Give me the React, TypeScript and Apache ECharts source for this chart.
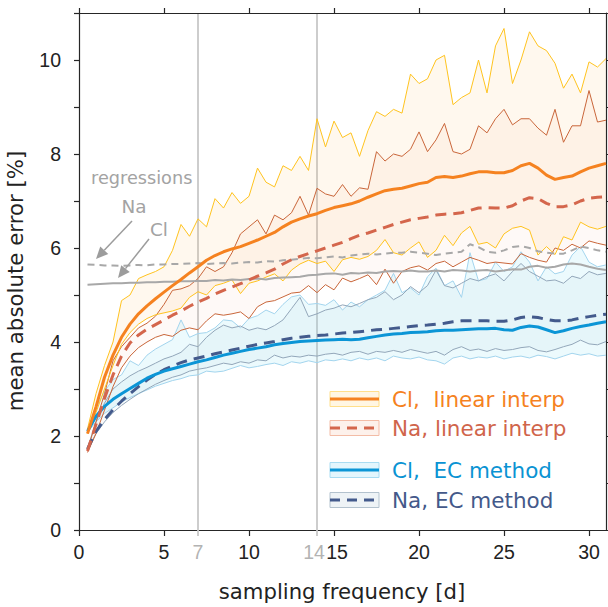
import React, { useEffect, useRef } from "react";
import * as echarts from "echarts";

// sampling frequency [d]
const X = [0.5, 1, 1.5, 2, 2.5, 3, 3.5, 4, 4.5, 5, 5.5, 6, 6.5, 7, 7.5, 8, 8.5, 9, 9.5, 10,
  10.5, 11, 11.5, 12, 12.5, 13, 13.5, 14, 14.5, 15, 15.5, 16, 16.5, 17, 17.5, 18, 18.5, 19, 19.5, 20,
  20.5, 21, 21.5, 22, 22.5, 23, 23.5, 24, 24.5, 25, 25.5, 26, 26.5, 27, 27.5, 28, 28.5, 29, 29.5, 30,
  30.5, 31];

const X_TICKS = [0, 5, 10, 15, 20, 25, 30];
const X_MARKS = [7, 14];

// Cl, linear interp
const clLinMean = [2.05, 2.62, 3.25, 3.72, 4.1, 4.38, 4.6, 4.77, 4.92, 5.06,
  5.2, 5.33, 5.47, 5.6, 5.74, 5.84, 5.92, 5.98, 6.03, 6.1,
  6.17, 6.25, 6.33, 6.45, 6.55, 6.62, 6.68, 6.73, 6.8, 6.86,
  6.9, 6.94, 7.0, 7.08, 7.15, 7.22, 7.25, 7.27, 7.32, 7.37,
  7.4, 7.5, 7.52, 7.5, 7.53, 7.58, 7.62, 7.62, 7.6, 7.6,
  7.65, 7.75, 7.8, 7.7, 7.55, 7.46, 7.5, 7.53, 7.62, 7.7,
  7.75, 7.8];
const clLinUpper = [2.15, 2.9, 3.5, 4.0, 4.88, 5.0, 5.35, 5.43, 5.5, 5.6,
  5.95, 6.5, 6.25, 6.62, 6.45, 7.05, 6.85, 7.18, 6.95, 7.1,
  7.7, 7.4, 7.3, 7.75, 7.65, 7.95, 7.65, 8.75, 8.15, 8.7,
  8.35, 8.45, 7.95, 8.5, 8.9, 8.8, 8.95, 8.87, 9.7, 9.5,
  9.6, 10.0, 10.1, 9.05, 9.2, 9.3, 10.0, 9.3, 10.3, 10.67,
  9.5, 10.0, 10.6, 10.3, 10.2, 9.93, 9.4, 9.7, 9.3, 9.96,
  9.85, 10.03];
const clLinLower = [2.05, 2.5, 3.0, 3.5, 3.95, 4.2, 4.38, 4.5, 4.58, 4.62,
  4.66, 4.72, 4.95, 5.07, 5.0, 5.2, 5.25, 5.32, 5.03, 5.25,
  5.3, 5.38, 5.45, 5.3, 5.53, 5.66, 5.74, 5.67, 5.72, 5.5,
  5.75, 5.8, 5.76, 5.82, 5.95, 6.18, 5.9, 5.85, 6.0, 6.13,
  5.8, 5.95, 6.27, 6.05, 6.32, 6.46, 6.08, 6.12, 6.0, 6.3,
  6.42, 6.46, 6.38, 5.85, 6.03, 5.86, 6.24, 6.17, 6.55, 6.45,
  6.4, 6.46];

// Na, linear interp
const naLinMean = [1.68, 2.25, 2.8, 3.3, 3.7, 3.98, 4.15, 4.27, 4.37, 4.47,
  4.57, 4.66, 4.76, 4.85, 4.93, 5.02, 5.1, 5.17, 5.24, 5.32,
  5.4, 5.47, 5.55, 5.66, 5.75, 5.82, 5.88, 5.94, 6.0, 6.06,
  6.12, 6.2, 6.27, 6.32, 6.38, 6.44, 6.5, 6.55, 6.6, 6.63,
  6.66, 6.7, 6.72, 6.73, 6.75, 6.8, 6.85, 6.86, 6.85, 6.85,
  6.9, 7.0, 7.07, 7.05, 6.95, 6.88, 6.88, 6.92, 7.0, 7.06,
  7.08, 7.09];
const naLinUpper = [1.7, 2.3, 2.9, 3.6, 3.9, 4.1, 4.3, 4.4, 4.55, 4.8,
  5.1, 5.13, 5.2, 5.35, 5.6, 5.5, 5.6, 5.9, 6.3, 6.45,
  6.6, 6.3, 6.7, 6.6, 6.75, 7.1, 6.7, 7.27, 7.15, 7.1,
  7.35, 7.1, 7.28, 7.25, 8.05, 7.85, 8.0, 7.95, 8.1, 8.47,
  8.05, 8.3, 8.65, 8.05, 8.0, 8.1, 8.6, 8.45, 8.75, 8.95,
  8.62, 8.75, 8.75, 8.55, 8.4, 8.95, 8.25, 8.6, 8.6, 9.35,
  8.68, 8.72];
const naLinLower = [1.65, 2.05, 2.55, 3.05, 3.45, 3.7, 3.88, 4.0, 4.1, 4.16,
  4.12, 4.25, 4.3, 4.26, 4.45, 4.6, 4.57, 4.6, 4.64, 4.5,
  4.75, 4.85, 4.88, 4.96, 5.04, 5.06, 5.2, 5.05, 5.22, 5.11,
  5.36, 5.28, 5.35, 5.43, 5.22, 5.55, 5.25, 5.5, 5.58, 5.62,
  5.53, 5.67, 5.72, 5.6, 5.7, 5.8, 5.74, 5.67, 5.7, 5.68,
  5.66, 5.88, 5.8, 5.74, 5.7, 6.0, 5.95, 6.08, 6.0, 6.15,
  6.1, 6.06];

// Cl, EC method
const clEcMean = [2.1, 2.42, 2.63, 2.78, 2.9, 3.01, 3.12, 3.23, 3.31, 3.38,
  3.43, 3.48, 3.53, 3.58, 3.62, 3.67, 3.72, 3.76, 3.8, 3.84,
  3.87, 3.9, 3.94, 3.97, 3.99, 4.01, 4.02, 4.03, 4.04, 4.05,
  4.06, 4.05, 4.06, 4.09, 4.12, 4.15, 4.17, 4.18, 4.2, 4.21,
  4.22, 4.24, 4.25, 4.25, 4.26, 4.27, 4.28, 4.28, 4.29, 4.26,
  4.25, 4.31, 4.34, 4.32, 4.26, 4.2, 4.24, 4.29, 4.33, 4.36,
  4.4, 4.43];
const clEcUpper = [2.12, 2.6, 2.95, 3.2, 3.3, 3.6, 3.5, 3.72, 3.85, 3.95,
  4.05, 4.47, 4.1, 4.18, 4.2, 4.3, 4.47, 4.45, 4.3, 4.5,
  4.56, 4.68, 4.6, 4.8, 4.96, 5.0, 4.8, 4.82, 4.78, 4.9,
  4.68, 4.85, 4.75, 4.9, 5.0, 5.1, 5.46, 5.05, 5.15, 5.0,
  5.39, 5.57, 5.2, 5.3, 4.95, 5.9, 5.3, 5.35, 5.7, 5.5,
  5.6, 5.92, 5.7, 5.3, 5.6, 5.45, 5.5, 5.85, 6.03, 5.7,
  5.6, 5.64];
const clEcLower = [2.08, 2.3, 2.48, 2.6, 2.72, 2.82, 2.9, 2.98, 3.06, 3.12,
  3.18, 3.22, 3.28, 3.3, 3.38, 3.36, 3.38, 3.44, 3.5, 3.45,
  3.48, 3.52, 3.55, 3.5, 3.58, 3.55, 3.6, 3.56, 3.62, 3.6,
  3.64, 3.6, 3.66, 3.62, 3.66, 3.6, 3.7, 3.66, 3.64, 3.68,
  3.62, 3.6, 3.53, 3.66, 3.7, 3.64, 3.68, 3.66, 3.7, 3.64,
  3.68, 3.7, 3.66, 3.72, 3.69, 3.64, 3.7, 3.76, 3.72, 3.75,
  3.7, 3.72];

// Na, EC method
const naEcMean = [1.72, 2.1, 2.35, 2.56, 2.74, 2.9, 3.05, 3.19, 3.31, 3.41,
  3.49, 3.56, 3.62, 3.66, 3.7, 3.75, 3.79, 3.83, 3.87, 3.91,
  3.95, 3.98, 4.01, 4.05, 4.08, 4.1, 4.12, 4.14, 4.15, 4.17,
  4.19, 4.2, 4.22, 4.24, 4.26, 4.27, 4.29, 4.31, 4.33, 4.35,
  4.36, 4.38, 4.4, 4.43, 4.45, 4.45, 4.45, 4.45, 4.44, 4.44,
  4.47, 4.52, 4.54, 4.52, 4.48, 4.45, 4.45, 4.47, 4.51, 4.54,
  4.57, 4.59];
const naEcUpper = [1.75, 2.3, 2.7, 3.0, 3.15, 3.28, 3.38, 3.46, 3.55, 3.64,
  3.7, 3.78, 3.95, 3.9, 4.1, 4.25, 4.36, 4.3, 4.34, 4.25,
  4.3, 4.26, 4.35, 4.47, 4.71, 4.95, 4.54, 4.6, 4.68, 4.72,
  4.79, 4.75, 4.82, 4.9, 4.95, 5.07, 4.9, 5.0, 5.18, 5.05,
  5.2, 5.53, 5.2, 5.15, 5.25, 5.35, 5.3, 5.39, 5.45, 5.3,
  5.5, 5.67, 5.5, 5.4, 5.3, 5.32, 5.25, 5.4, 5.35, 5.5,
  5.43, 5.46];
const naEcLower = [1.72, 2.05, 2.3, 2.5, 2.65, 2.78, 2.9, 3.0, 3.1, 3.18,
  3.25, 3.3, 3.38, 3.42, 3.45, 3.5, 3.55, 3.52, 3.58, 3.55,
  3.62, 3.6, 3.72, 3.66, 3.7, 3.68, 3.72, 3.7, 3.74, 3.76,
  3.72, 3.78, 3.8, 3.74, 3.8, 3.78, 3.82, 3.78, 3.84, 3.8,
  3.76, 3.8, 3.72, 3.84, 3.9, 3.82, 3.85, 3.8, 3.86, 3.82,
  3.84, 3.88, 3.9, 3.82, 3.79, 3.84, 3.9, 3.95, 4.04, 3.96,
  3.94, 4.01];

// regressions
const clRegression = [5.22, 5.23, 5.24, 5.25, 5.25, 5.26, 5.26, 5.27, 5.27, 5.28,
  5.28, 5.29, 5.29, 5.3, 5.3, 5.32, 5.31, 5.33, 5.32, 5.34,
  5.35, 5.33, 5.36, 5.37, 5.38, 5.39, 5.42, 5.43, 5.45, 5.46,
  5.43, 5.47, 5.46, 5.48, 5.47, 5.5, 5.51, 5.5, 5.52, 5.5,
  5.5, 5.52, 5.5, 5.53, 5.52, 5.5, 5.52, 5.53, 5.5, 5.52,
  5.55, 5.54, 5.6, 5.62, 5.58, 5.6, 5.65, 5.67, 5.65, 5.6,
  5.56, 5.53];
const naRegression = [5.65, 5.64, 5.63, 5.63, 5.62, 5.63, 5.64, 5.63, 5.65, 5.65,
  5.66, 5.66, 5.67, 5.68, 5.66, 5.67, 5.68, 5.67, 5.69, 5.7,
  5.69, 5.72, 5.71, 5.74, 5.75, 5.77, 5.79, 5.78, 5.8, 5.82,
  5.8, 5.84, 5.86, 5.88, 5.86, 5.88, 5.9, 5.9, 5.92, 5.9,
  5.88, 5.85, 5.88, 5.9, 5.92, 6.08, 6.02, 5.92, 5.9, 5.95,
  6.02, 6.04, 6.0, 5.93, 5.9, 5.88, 5.88, 5.95, 6.03, 6.0,
  5.95, 5.92];

const TICK_FONT = "'Liberation Sans', Arial, Helvetica, sans-serif";
const TEXT_FONT = "'DejaVu Sans', 'Liberation Sans', sans-serif";
const AX = "#262626";

const C = {
  clLin: "#F58220", clLinBand: "#FFC31F", clLinFill: "rgba(255,190,90,0.10)",
  naLin: "#D4664C", naLinBand: "#C9663A", naLinFill: "rgba(235,130,90,0.05)",
  clEc: "#0B95D6", clEcBand: "#A3D5EE", clEcFill: "rgba(160,228,246,0.2)",
  naEc: "#435A8C", naEcBand: "#93A7BA", naEcFill: "rgba(90,140,170,0.045)",
  reg: "#A8A8A8", regText: "#A3A3A3",
};

function pairs(arr: number[]) {
  return X.map((x, i) => [x, arr[i]]);
}

function band(name: string, upper: number[], lower: number[], fill: string, z: number) {
  return {
    type: "custom",
    name,
    z,
    silent: true,
    clip: true,
    data: [[X[0], lower[0]]],
    renderItem: (_p: any, api: any) => {
      const pts: number[][] = [];
      for (let i = 0; i < X.length; i++) pts.push(api.coord([X[i], upper[i]]));
      for (let i = X.length - 1; i >= 0; i--) pts.push(api.coord([X[i], lower[i]]));
      return { type: "polygon", shape: { points: pts }, style: { fill, stroke: "none" } };
    },
  };
}

function line(name: string, arr: number[], color: string, width: number, dash: any, z: number) {
  return {
    type: "line",
    name,
    z,
    silent: true,
    data: pairs(arr),
    showSymbol: false,
    symbol: "none",
    lineStyle: { color, width, type: dash || "solid", cap: "butt" },
  };
}

function arrow(x1: number, y1: number, x2: number, y2: number, color: string) {
  const dx = x2 - x1, dy = y2 - y1;
  const L = Math.hypot(dx, dy);
  const ux = dx / L, uy = dy / L;
  const hl = 12, hw = 5.5;
  const bx = x2 - ux * hl, by = y2 - uy * hl;
  return [
    { type: "line", z: 100, shape: { x1, y1, x2: bx, y2: by }, style: { stroke: color, lineWidth: 1.5 } },
    {
      type: "polygon", z: 100,
      shape: { points: [[x2, y2], [bx - uy * hw, by + ux * hw], [bx + uy * hw, by - ux * hw]] },
      style: { fill: color },
    },
  ];
}

const LEGEND = [
  { label: "Cl,\u00A0 linear interp", color: C.clLin, text: "#F5821F", fill: "#FFF6E3", stroke: "#FFDF8A", dash: null },
  { label: "Na, linear interp", color: C.naLin, text: "#D0654B", fill: "#FDF1EB", stroke: "#F3BCA6", dash: [10, 7] },
  { label: "Cl,\u00A0 EC method", color: C.clEc, text: "#0A93D3", fill: "#E3F6FD", stroke: "#A8DCF2", dash: null },
  { label: "Na, EC method", color: C.naEc, text: "#44598A", fill: "#EEF3F6", stroke: "#B3C2CE", dash: [10, 7] },
];
const LEGEND_Y = [399, 428, 470, 500];

export default function App() {
  const ref = useRef<HTMLDivElement>(null);

  useEffect(() => {
    document.body.style.margin = "0";
    if (!ref.current) return;
    const chart = echarts.init(ref.current, null, { renderer: "svg" });

    const legendGraphics: any[] = [];
    LEGEND.forEach((it, i) => {
      const cy = LEGEND_Y[i];
      legendGraphics.push({
        type: "rect", z: 100,
        shape: { x: 330, y: cy - 7.5, width: 49, height: 15 },
        style: { fill: it.fill, stroke: it.stroke, lineWidth: 1 },
      });
      legendGraphics.push({
        type: "line", z: 101,
        shape: { x1: 330, y1: cy, x2: 379, y2: cy },
        style: { stroke: it.color, lineWidth: 3, lineDash: it.dash || undefined },
      });
      legendGraphics.push({
        type: "text", z: 101, x: 392, y: cy,
        style: {
          text: it.label, fill: it.text, fontSize: 21.5, fontFamily: TEXT_FONT,
          align: "left", verticalAlign: "middle",
        },
      });
    });

    const tickLabel = { color: "#222", fontSize: 19.5, fontFamily: TICK_FONT };
    const markLabel = { color: "#B3B3B3", fontSize: 19.5, fontFamily: TICK_FONT };

    const option: any = {
      animation: false,
      backgroundColor: "#ffffff",
      grid: { left: 79, right: 2, top: 13, bottom: 77, containLabel: false },
      xAxis: [
        {
          type: "value", min: 0, max: 31, position: "bottom",
          axisLine: { show: true, onZero: false, lineStyle: { color: AX, width: 1.2 } },
          axisTick: { show: true, length: 6, customValues: X_TICKS, lineStyle: { color: AX, width: 1.2 } },
          axisLabel: {
            customValues: X_TICKS, ...tickLabel, margin: 12,
            formatter: (v: number) => (v === 15 ? "{r|15}" : String(v)),
            rich: { r: { ...tickLabel, padding: [0, 0, 0, 6] } },
          },
          splitLine: { show: false },
        },
        {
          type: "value", min: 0, max: 31, position: "bottom",
          axisLine: { show: false },
          axisTick: { show: true, length: 6, customValues: X_MARKS, lineStyle: { color: "#C8C8C8", width: 1.8 } },
          axisLabel: {
            customValues: X_MARKS, ...markLabel, margin: 12,
            formatter: (v: number) => (v === 14 ? "{l|14}" : String(v)),
            rich: { l: { ...markLabel, padding: [0, 6, 0, 0] } },
          },
          splitLine: { show: true, lineStyle: { color: "#C8C8C8", width: 1.8 } },
        },
        {
          type: "value", min: 0, max: 31, position: "top",
          axisLine: { show: true, onZero: false, lineStyle: { color: AX, width: 1.2 } },
          axisTick: { show: true, length: 5, customValues: X_TICKS, lineStyle: { color: AX, width: 1.2 } },
          axisLabel: { show: false },
          splitLine: { show: false },
        },
      ],
      yAxis: [
        {
          type: "value", min: 0, max: 11, interval: 1, position: "left",
          axisLine: { show: true, onZero: false, lineStyle: { color: AX, width: 1.2 } },
          axisTick: { show: true, length: 5, lineStyle: { color: AX, width: 1.2 } },
          axisLabel: {
            ...tickLabel, margin: 18,
            formatter: (v: number) => (v % 2 === 0 && v < 11 ? String(v) : ""),
          },
          splitLine: { show: false },
        },
        {
          type: "value", min: 0, max: 11, interval: 1, position: "right",
          axisLine: { show: true, onZero: false, lineStyle: { color: AX, width: 1.2 } },
          axisTick: { show: true, length: 5, lineStyle: { color: AX, width: 1.2 } },
          axisLabel: { show: false },
          splitLine: { show: false },
        },
      ],
      series: [
        band("Cl linear band", clLinUpper, clLinLower, C.clLinFill, 1),
        band("Na linear band", naLinUpper, naLinLower, C.naLinFill, 1),
        band("Cl EC band", clEcUpper, clEcLower, C.clEcFill, 1),
        band("Na EC band", naEcUpper, naEcLower, C.naEcFill, 1),
        line("Cl EC lower", clEcLower, C.clEcBand, 1, null, 2),
        line("Cl EC upper", clEcUpper, C.clEcBand, 1, null, 2),
        line("Na EC lower", naEcLower, C.naEcBand, 1, null, 2),
        line("Na EC upper", naEcUpper, C.naEcBand, 1, null, 2),
        line("Na linear lower", naLinLower, C.naLinBand, 1, null, 2),
        line("Na linear upper", naLinUpper, C.naLinBand, 1, null, 2),
        line("Cl linear lower", clLinLower, C.clLinBand, 1, null, 2),
        line("Cl linear upper", clLinUpper, C.clLinBand, 1, null, 2),
        line("Na regression", naRegression, C.reg, 2, [7, 5], 3),
        line("Cl regression", clRegression, C.reg, 2, null, 3),
        line("Na EC method", naEcMean, C.naEc, 3, [11, 7], 4),
        line("Cl EC method", clEcMean, C.clEc, 3, null, 4),
        line("Na linear interp", naLinMean, C.naLin, 3, [11, 7], 4),
        line("Cl linear interp", clLinMean, C.clLin, 3, null, 4),
      ],
      graphic: [
        {
          type: "text", z: 100, x: 15, y: 281, rotation: Math.PI / 2,
          style: {
            text: "mean absolute error [%]", fill: "#222", fontSize: 21.3, fontFamily: TEXT_FONT,
            align: "center", verticalAlign: "middle",
          },
        },
        {
          type: "text", z: 100, x: 342, y: 591,
          style: {
            text: "sampling frequency [d]", fill: "#222", fontSize: 21.2, fontFamily: TEXT_FONT,
            align: "center", verticalAlign: "middle",
          },
        },
        {
          type: "text", z: 100, x: 91, y: 178,
          style: { text: "regressions", fill: C.regText, fontSize: 17.7, fontFamily: TEXT_FONT, align: "left", verticalAlign: "middle" },
        },
        {
          type: "text", z: 100, x: 134, y: 206,
          style: { text: "Na", fill: C.regText, fontSize: 18.4, fontFamily: TEXT_FONT, align: "center", verticalAlign: "middle" },
        },
        {
          type: "text", z: 100, x: 159, y: 229,
          style: { text: "Cl", fill: C.regText, fontSize: 18.4, fontFamily: TEXT_FONT, align: "center", verticalAlign: "middle" },
        },
        ...arrow(132, 221, 96, 259, "#9C9C9C"),
        ...arrow(149, 239, 118, 278, "#9C9C9C"),
        ...legendGraphics,
      ],
    };

    chart.setOption(option);
    return () => chart.dispose();
  }, []);

  return <div ref={ref} style={{ width: 608, height: 607 }} />;
}
